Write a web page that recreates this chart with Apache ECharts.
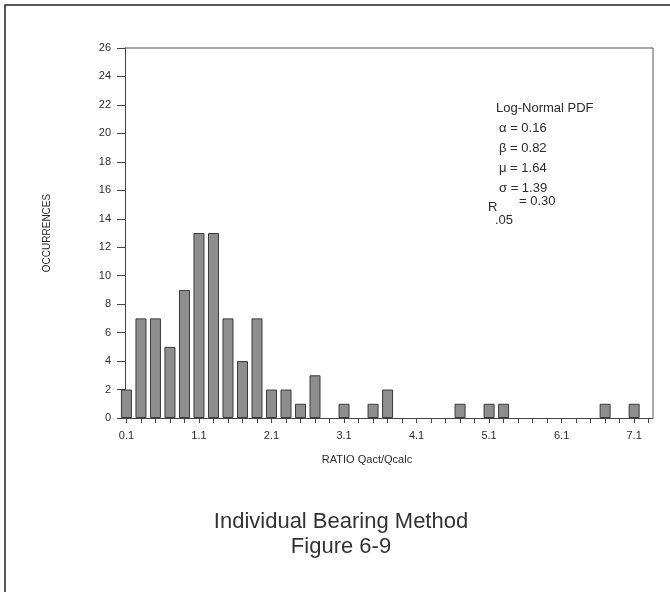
<!DOCTYPE html>
<html>
<head>
<meta charset="utf-8">
<script src="https://cdn.jsdelivr.net/npm/echarts@6/dist/echarts.min.js"></script>
<style>
  html, body { margin: 0; padding: 0; background: #fff; }
  #chart { width: 670px; height: 592px; }
</style>
</head>
<body>
<div id="chart"></div>
<script>
// histogram bins (ratio Qact/Qcalc) and counts
var bins = [0.1, 0.3, 0.5, 0.7, 0.9, 1.1, 1.3, 1.5, 1.7, 1.9,
  2.1, 2.3, 2.5, 2.7, 2.9, 3.1, 3.3, 3.5, 3.7, 3.9,
  4.1, 4.3, 4.5, 4.7, 4.9, 5.1, 5.3, 5.5, 5.7, 5.9,
  6.1, 6.3, 6.5, 6.7, 6.9, 7.1, 7.3];
var counts = [2, 7, 7, 5, 9, 13, 13, 7, 4, 7,
  2, 2, 1, 3, 0, 1, 0, 1, 2, 0,
  0, 0, 0, 1, 0, 1, 1, 0, 0, 0,
  0, 0, 0, 1, 0, 1, 0];
var xLabels = [0.1, 1.1, 2.1, 3.1, 4.1, 5.1, 6.1, 7.1];
var statLines = ['\u03b1 = 0.16', '\u03b2 = 0.82', '\u03bc = 1.64', '\u03c3 = 1.39'];

var font = 'Liberation Sans, Arial, sans-serif';
var ink = '#2b2b2b';

var chart = echarts.init(document.getElementById('chart'));

// empty bins get no bar (otherwise the border draws a stub on the axis)
var barData = bins.map(function (b, i) { return [b, counts[i] > 0 ? counts[i] : '-']; });

var graphics = [
  // page frame (top + left visible)
  { type: 'rect', shape: { x: 5, y: 5, width: 700, height: 700 },
    style: { fill: 'none', stroke: '#222', lineWidth: 1.5 }, silent: true },
  // plot box top + right
  { type: 'polyline', shape: { points: [[125, 48], [653, 48], [653, 418]] },
    style: { fill: 'none', stroke: '#555', lineWidth: 1 }, silent: true },
  { type: 'text', x: 47, y: 233, rotation: Math.PI / 2,
    style: { text: 'OCCURRENCES', font: '10px ' + font, fill: ink,
      textAlign: 'center', textVerticalAlign: 'middle' } },
  { type: 'text', x: 367, y: 460,
    style: { text: 'RATIO Qact/Qcalc', font: '11px ' + font, fill: ink,
      textAlign: 'center', textVerticalAlign: 'middle' } },
  { type: 'text', x: 496, y: 108,
    style: { text: 'Log-Normal PDF', font: '13px ' + font, fill: ink,
      textVerticalAlign: 'middle' } },
  { type: 'text', x: 488, y: 207,
    style: { text: 'R', font: '13px ' + font, fill: ink, textVerticalAlign: 'middle' } },
  { type: 'text', x: 495, y: 220,
    style: { text: '.05', font: '13px ' + font, fill: ink, textVerticalAlign: 'middle' } },
  { type: 'text', x: 519, y: 201,
    style: { text: '= 0.30', font: '13px ' + font, fill: ink, textVerticalAlign: 'middle' } },
  { type: 'text', x: 341, y: 522,
    style: { text: 'Individual Bearing Method', font: '22px "Liberation Sans Narrow", sans-serif',
      fill: '#333', textAlign: 'center', textVerticalAlign: 'middle' } },
  { type: 'text', x: 341, y: 547,
    style: { text: 'Figure 6-9', font: '22px "Liberation Sans Narrow", sans-serif',
      fill: '#333', textAlign: 'center', textVerticalAlign: 'middle' } }
];
statLines.forEach(function (s, i) {
  graphics.push({ type: 'text', x: 499, y: 128 + i * 20,
    style: { text: s, font: '13px ' + font, fill: ink, textVerticalAlign: 'middle' } });
});

chart.setOption({
  animation: false,
  backgroundColor: '#fff',
  grid: { left: 125, right: 17, top: 48, bottom: 174 },
  xAxis: {
    type: 'value',
    min: 0.08,
    max: 7.36,
    axisLine: { show: true, lineStyle: { color: '#444', width: 1 } },
    axisTick: { show: true, length: 5, lineStyle: { color: '#444' }, customValues: bins },
    axisLabel: {
      customValues: xLabels,
      margin: 12,
      color: ink,
      fontSize: 11,
      fontFamily: font,
      formatter: function (v) { return v.toFixed(1); }
    },
    splitLine: { show: false }
  },
  yAxis: {
    type: 'value',
    min: 0,
    max: 26,
    interval: 2,
    axisLine: { show: true, lineStyle: { color: '#444', width: 1 } },
    axisTick: { show: true, length: 8, lineStyle: { color: '#444' } },
    axisLabel: { color: ink, fontSize: 11, fontFamily: font, margin: 14 },
    splitLine: { show: false }
  },
  series: [{
    type: 'bar',
    data: barData,
    barWidth: 11,
    itemStyle: { color: '#8e8e8e', borderColor: '#3a3a3a', borderWidth: 1 }
  }],
  graphic: graphics
});
</script>
</body>
</html>
